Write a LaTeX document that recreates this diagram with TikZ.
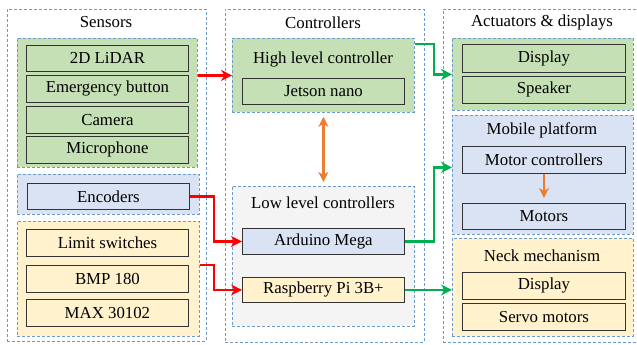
\documentclass[tikz,border=0pt]{standalone}
\usepackage{fontspec}
\setmainfont{Liberation Serif}
\usetikzlibrary{arrows.meta}
\definecolor{gfill}{HTML}{C5E0B4}
\definecolor{bfill}{HTML}{DAE3F3}
\definecolor{yfill}{HTML}{FFF2CC}
\definecolor{grayfill}{HTML}{F4F4F4}
\definecolor{dashc}{HTML}{6A9CCB}
\definecolor{redc}{HTML}{FF0000}
\definecolor{greenc}{HTML}{00B050}
\definecolor{orangec}{HTML}{ED7D31}
\definecolor{boxline}{HTML}{333333}
\tikzset{
  txt/.style={font=\rmfamily\fontsize{16.8}{18}\selectfont, text=black},
  grp/.style={draw=dashc, line width=0.8pt, dash pattern=on 3pt off 2pt, anchor=north west, inner sep=0pt},
  outer/.style={grp, fill=white},
  ibox/.style={draw=boxline, line width=0.9pt, anchor=north west, inner sep=0pt, txt},
  title/.style={txt, inner sep=0pt},
  conn/.style={line width=2.5pt, -{Stealth[length=11pt,width=11pt,inset=3.5pt]}},
  dconn/.style={line width=2.5pt, {Stealth[length=10pt,width=10pt,inset=3pt]}-{Stealth[length=10pt,width=10pt,inset=3pt]}},
}
\begin{document}
\begin{tikzpicture}[x=1pt,y=-1pt]
\useasboundingbox (0,0) rectangle (637,345);
\clip (0,0) rectangle (637,345);
% ---------- Sensors ----------
\node[outer, minimum width=199, minimum height=332] (sens) at (7,9) {};
\node[title] (senst) at (106,22.5) {Sensors};
\node[grp, fill=gfill, minimum width=180, minimum height=129] (sgreen) at (17,38) {};
\node[ibox, fill=gfill, minimum width=162, minimum height=26] (lidar) at (26,45) {2D LiDAR};
\node[ibox, fill=gfill, minimum width=162, minimum height=27] (emerg) at (26,75) {Emergency button};
\node[ibox, fill=gfill, minimum width=162, minimum height=27] (camera) at (26,106) {Camera};
\node[ibox, fill=gfill, minimum width=162, minimum height=27] (micro) at (26,136) {Microphone};
\node[grp, fill=bfill, minimum width=182, minimum height=40] (sblue) at (17,174) {};
\node[ibox, fill=bfill, minimum width=162, minimum height=26] (enc) at (27,183) {Encoders};
\node[grp, fill=yfill, minimum width=182, minimum height=115] (syellow) at (17,221) {};
\node[ibox, fill=yfill, minimum width=162, minimum height=27] (limit) at (26,229) {Limit switches};
\node[ibox, fill=yfill, minimum width=162, minimum height=27] (bmp) at (26,265) {BMP 180};
\node[ibox, fill=yfill, minimum width=162, minimum height=27] (max) at (26,299) {MAX 30102};
% ---------- Controllers ----------
\node[outer, minimum width=199, minimum height=333] (ctrl) at (225,9) {};
\node[title] (ctrlt) at (323,22.5) {Controllers};
\node[grp, fill=gfill, minimum width=182, minimum height=74] (hgroup) at (232,38) {};
\node[title] (hgroupt) at (323,59.5) {High level controller};
\node[ibox, fill=gfill, minimum width=162, minimum height=26] (jetson) at (242,78) {Jetson nano};
\node[grp, fill=grayfill, minimum width=182, minimum height=140] (lgroup) at (232,186) {};
\node[title] (lgroupt) at (323,202.5) {Low level controllers};
\node[ibox, fill=bfill, minimum width=162, minimum height=26] (arduino) at (242,228) {Arduino Mega};
\node[ibox, fill=yfill, minimum width=162, minimum height=25] (rpi) at (242,277) {Raspberry Pi 3B+};
% ---------- Actuators ----------
\node[outer, minimum width=205, minimum height=333] (act) at (443,9) {};
\node[title] (actt) at (542,22.5) {Actuators \& displays};
\node[grp, fill=gfill, minimum width=181, minimum height=72] (agreen) at (452,38) {};
\node[ibox, fill=gfill, minimum width=163, minimum height=28] (adisp) at (462,44) {Display};
\node[ibox, fill=gfill, minimum width=163, minimum height=27] (speaker) at (462,76) {Speaker};
\node[grp, fill=bfill, minimum width=181, minimum height=119] (mobile) at (452,115) {};
\node[title] (mobilet) at (542,130.5) {Mobile platform};
\node[ibox, fill=bfill, minimum width=163, minimum height=27] (motc) at (462,146) {Motor controllers};
\node[ibox, fill=bfill, minimum width=163, minimum height=26] (motors) at (462,203) {Motors};
\node[grp, fill=yfill, minimum width=181, minimum height=98] (neck) at (452,238) {};
\node[title] (neckt) at (542,255.5) {Neck mechanism};
\node[ibox, fill=yfill, minimum width=163, minimum height=27] (ndisp) at (462,272) {Display};
\node[ibox, fill=yfill, minimum width=163, minimum height=27] (servo) at (462,303) {Servo motors};
% ---------- Connectors ----------
\draw[conn, redc] (sgreen.east |- hgroup.west) -- (hgroup.west);
\draw[conn, redc] (enc.east) -- ++(24,0) |- (arduino.west);
\draw[conn, redc] (syellow.east |- bmp.north) -- ++(14,0) |- (rpi.west);
\draw[dconn, orangec, shorten <=4pt, shorten >=4pt] (hgroup.south) -- (lgroup.north);
\draw[conn, greenc] ([yshift=-6pt]hgroup.north east) -- ++(19,0) |- (agreen.west);
\draw[conn, greenc] (arduino.east) -- ++(29,0) |- ([yshift=7.5pt]mobile.west);
\draw[conn, greenc] (rpi.east) -- (rpi.east -| neck.west);
\draw[line width=2.5pt, orangec, -{Stealth[length=10pt,width=10pt,inset=3pt]}, shorten >=5pt] (motc.south) -- (motors.north);
\end{tikzpicture}
\end{document}
